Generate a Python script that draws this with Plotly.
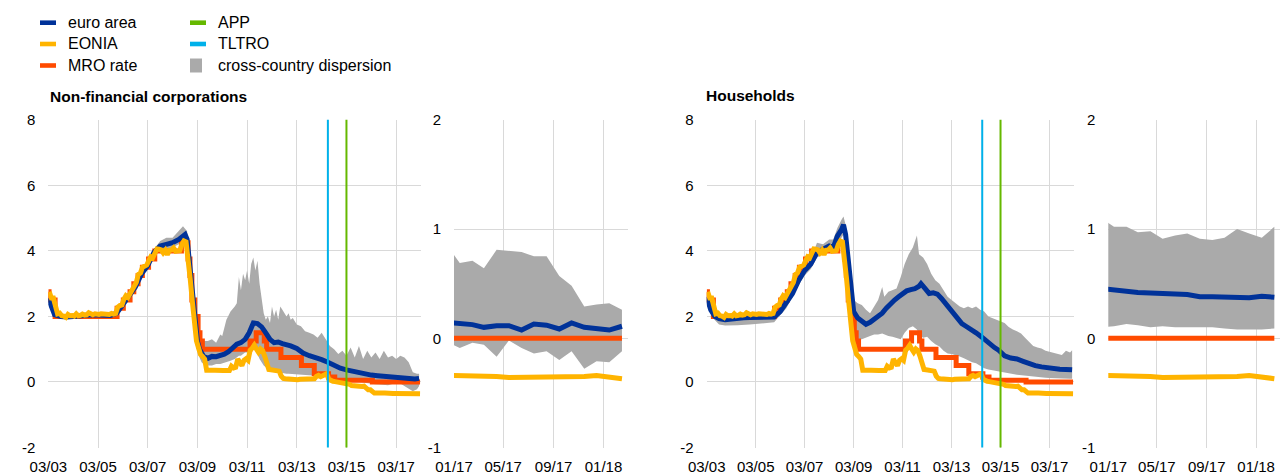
import plotly.graph_objects as go
import pandas as pd

W, H = 1282, 474

# ---------------- colours ----------------
C_EA = "#003299"
C_EONIA = "#FFB400"
C_MRO = "#FF4B00"
C_APP = "#65B800"
C_TLTRO = "#00B1EA"
C_DISP = "#AAAAAA"

# ---------------- data ----------------
# EONIA, monthly averages, 2003-03 .. 2018-02
eonia_long = [
    2.75, 2.56, 2.56, 2.21, 2.08, 2.10, 2.02, 2.01, 1.97, 2.06,
    2.02, 2.03, 2.01, 2.08, 2.02, 2.03, 2.07, 2.04, 2.05, 2.11, 2.09, 2.05,
    2.08, 2.06, 2.06, 2.08, 2.07, 2.06, 2.07, 2.06, 2.09, 2.07, 2.09, 2.28,
    2.33, 2.35, 2.52, 2.63, 2.58, 2.70, 2.81, 2.97, 3.04, 3.28, 3.33, 3.50,
    3.56, 3.57, 3.69, 3.82, 3.79, 3.96, 4.06, 4.05, 4.03, 3.94, 4.02, 3.88,
    4.02, 4.03, 4.09, 3.99, 4.01, 4.01, 4.19, 4.30, 4.27, 3.82, 3.15, 2.49,
    1.81, 1.26, 1.06, 0.84, 0.78, 0.70, 0.36, 0.35, 0.36, 0.36, 0.36, 0.35,
    0.34, 0.34, 0.35, 0.35, 0.34, 0.35, 0.48, 0.43, 0.45, 0.70, 0.59, 0.50,
    0.66, 0.71, 0.66, 0.97, 1.03, 1.12, 1.01, 0.91, 1.01, 0.96, 0.79, 0.63,
    0.38, 0.37, 0.36, 0.35, 0.34, 0.33, 0.18, 0.11, 0.10, 0.09, 0.08, 0.07,
    0.07, 0.07, 0.07, 0.08, 0.08, 0.09, 0.09, 0.08, 0.08, 0.09, 0.10, 0.17,
    0.20, 0.16, 0.19, 0.25, 0.25, 0.08, 0.04, 0.02, 0.01, 0.00, -0.01, -0.03,
    -0.05, -0.04, -0.05, -0.07, -0.11, -0.12, -0.12, -0.12, -0.14, -0.14, -0.13, -0.20,
    -0.24, -0.24, -0.29, -0.34, -0.34, -0.33, -0.33, -0.34, -0.34, -0.35, -0.35, -0.35,
    -0.35, -0.35, -0.35, -0.36, -0.36, -0.36, -0.36, -0.36, -0.36, -0.36, -0.35, -0.34,
    -0.36, -0.36,
]
eonia_long_dates = pd.date_range("2003-03-01", periods=len(eonia_long), freq="MS") + pd.Timedelta(days=14)

# MRO rate: change dates and new level
mro_dates = ["2003-03-01", "2003-03-12", "2003-06-09", "2005-12-06", "2006-03-08", "2006-06-15",
             "2006-08-09", "2006-10-11", "2006-12-13", "2007-03-14", "2007-06-13", "2008-07-09",
             "2008-10-15", "2008-11-12", "2008-12-10", "2009-01-21", "2009-03-11", "2009-04-08",
             "2009-05-13", "2011-04-13", "2011-07-13", "2011-11-09", "2011-12-14", "2012-07-11",
             "2013-05-08", "2013-11-13", "2014-06-11", "2014-09-10", "2016-03-16", "2018-02-15"]
mro_levels = [2.75, 2.50, 2.00, 2.25, 2.50, 2.75, 3.00, 3.25, 3.50, 3.75, 4.00, 4.25,
              3.75, 3.25, 2.50, 2.00, 1.50, 1.25, 1.00, 1.25, 1.50, 1.25, 1.00, 0.75,
              0.50, 0.25, 0.15, 0.05, 0.00, 0.00]

# Non-financial corporations, euro area
nfc_dates = ["2003-03", "2003-04", "2003-05", "2003-06", "2003-09", "2003-12", "2004-03", "2004-06",
             "2004-09", "2004-12", "2005-03", "2005-06", "2005-09", "2005-12", "2006-03", "2006-06",
             "2006-09", "2006-12", "2007-03", "2007-06", "2007-09", "2007-12", "2008-03", "2008-06",
             "2008-09", "2008-10", "2008-11", "2008-12", "2009-01", "2009-02", "2009-03", "2009-04",
             "2009-05", "2009-06", "2009-08", "2009-10", "2009-12", "2010-02", "2010-04", "2010-06",
             "2010-08", "2010-10", "2010-12", "2011-02", "2011-04", "2011-06", "2011-08", "2011-10",
             "2011-12", "2012-02", "2012-04", "2012-06", "2012-08", "2012-10", "2012-12", "2013-03",
             "2013-06", "2013-09", "2013-12", "2014-03", "2014-06", "2014-09", "2014-12", "2015-03",
             "2015-06", "2015-09", "2015-12", "2016-03", "2016-06", "2016-09", "2016-12", "2017-03",
             "2017-06", "2017-09", "2017-12", "2018-02"]
nfc_ea = [2.55, 2.4, 2.2, 2.05, 2.0, 1.98, 2.0, 2.02,
          2.03, 2.05, 2.04, 2.03, 2.03, 2.1, 2.35, 2.6,
          2.9, 3.3, 3.55, 3.95, 4.15, 4.2, 4.25, 4.35,
          4.5, 4.35, 3.7, 3.0, 2.3, 1.7, 1.25, 1.0,
          0.85, 0.78, 0.72, 0.78, 0.77, 0.8, 0.85, 0.92,
          1.02, 1.15, 1.2, 1.3, 1.5, 1.8, 1.78, 1.68,
          1.5, 1.3, 1.2, 1.22, 1.17, 1.15, 1.1, 1.02,
          0.88, 0.8, 0.75, 0.68, 0.6, 0.5, 0.42, 0.37,
          0.32, 0.28, 0.25, 0.21, 0.19, 0.17, 0.15, 0.13,
          0.12, 0.11, 0.09, 0.11]

nfc_band_dates = ["2003-03", "2003-06", "2003-09", "2003-12", "2004-06", "2004-12", "2005-06", "2005-12",
                  "2006-06", "2006-12", "2007-03", "2007-06", "2007-09", "2007-12", "2008-03", "2008-06",
                  "2008-08", "2008-10", "2008-11", "2008-12", "2009-01", "2009-02", "2009-03", "2009-04",
                  "2009-05", "2009-06", "2009-08", "2009-10", "2009-12", "2010-02", "2010-03", "2010-05",
                  "2010-07", "2010-09", "2010-10", "2010-11", "2010-12", "2011-01", "2011-02", "2011-03",
                  "2011-04", "2011-05", "2011-06", "2011-07", "2011-08", "2011-09", "2011-10", "2011-11",
                  "2011-12", "2012-01", "2012-02", "2012-03", "2012-04", "2012-05", "2012-06", "2012-07",
                  "2012-08", "2012-09", "2012-10", "2012-11", "2012-12", "2013-01", "2013-03", "2013-05",
                  "2013-07", "2013-09", "2013-11", "2014-01", "2014-03", "2014-05", "2014-07", "2014-09",
                  "2014-11", "2015-01", "2015-03", "2015-05", "2015-07", "2015-09", "2015-11", "2016-01",
                  "2016-03", "2016-05", "2016-07", "2016-09", "2016-11", "2017-01", "2017-03", "2017-05",
                  "2017-07", "2017-09", "2017-11", "2018-01", "2018-02"]
nfc_upper = [2.65, 2.1, 2.08, 2.06, 2.1, 2.12, 2.1, 2.15,
             2.68, 3.4, 3.65, 4.05, 4.3, 4.4, 4.4, 4.6,
             4.75, 4.6, 3.9, 3.2, 2.6, 2.0, 1.6, 1.35,
             1.25, 1.25, 1.25, 1.3, 1.2, 1.45, 1.4, 1.9,
             2.15, 2.3, 2.4, 3.2, 2.8, 3.3, 3.1, 3.4,
             3.0, 3.6, 3.8, 3.4, 3.7, 3.0, 2.6, 2.1,
             1.9, 2.0, 1.8, 2.3, 2.0, 2.2, 1.9, 2.3,
             2.2, 2.1, 2.0, 2.1, 1.9, 1.95, 1.75, 1.7,
             1.55, 1.5, 1.45, 1.35, 1.5, 1.3, 1.1, 1.0,
             0.85, 0.95, 0.8, 1.05, 0.75, 1.1, 0.7, 0.95,
             0.75, 0.9, 0.7, 0.95, 0.75, 0.8, 0.7, 0.8,
             0.75, 0.6, 0.3, 0.25, 0.25]
nfc_lower = [2.45, 1.98, 1.95, 1.94, 1.97, 1.98, 1.98, 2.02,
             2.55, 3.25, 3.5, 3.9, 4.05, 4.05, 4.1, 4.2,
             4.3, 4.2, 3.5, 2.8, 2.0, 1.4, 1.0, 0.75,
             0.6, 0.55, 0.5, 0.5, 0.55, 0.55, 0.55, 0.6,
             0.65, 0.7, 0.75, 0.8, 0.8, 0.85, 0.9, 0.9,
             1.0, 1.05, 1.1, 1.0, 0.85, 0.7, 0.6, 0.5,
             0.45, 0.42, 0.4, 0.4, 0.38, 0.36, 0.35, 0.3,
             0.27, 0.25, 0.25, 0.25, 0.25, 0.25, 0.25, 0.22,
             0.22, 0.2, 0.2, 0.2, 0.18, 0.17, 0.14, 0.1,
             0.08, 0.06, 0.05, 0.04, 0.02, 0.0, -0.02, -0.03,
             -0.05, -0.07, -0.08, -0.1, -0.1, -0.06, -0.06, -0.05,
             -0.14, -0.2, -0.28, -0.22, -0.12]

# Households, euro area
hh_dates = ["2003-03", "2003-04", "2003-05", "2003-07", "2003-09", "2003-12", "2004-03", "2004-06",
            "2004-09", "2004-12", "2005-03", "2005-06", "2005-09", "2005-12", "2006-03", "2006-06",
            "2006-09", "2006-12", "2007-03", "2007-06", "2007-09", "2007-12", "2008-03", "2008-05",
            "2008-07", "2008-09", "2008-10", "2008-11", "2008-12", "2009-01", "2009-02", "2009-03",
            "2009-05", "2009-07", "2009-09", "2009-11", "2010-01", "2010-03", "2010-05", "2010-07",
            "2010-09", "2010-11", "2011-01", "2011-03", "2011-05", "2011-07", "2011-09", "2011-11",
            "2011-12", "2012-02", "2012-04", "2012-06", "2012-08", "2012-10", "2012-12", "2013-02",
            "2013-04", "2013-06", "2013-08", "2013-10", "2013-12", "2014-03", "2014-06", "2014-09",
            "2014-12", "2015-02", "2015-05", "2015-08", "2015-11", "2016-02", "2016-05", "2016-08",
            "2016-11", "2017-02", "2017-05", "2017-08", "2017-11", "2018-02"]
hh_ea = [2.6, 2.4, 2.2, 2.0, 1.93, 1.9, 1.93, 1.95,
         1.96, 1.97, 1.97, 1.97, 1.97, 1.98, 2.15, 2.4,
         2.7, 3.1, 3.4, 3.6, 3.95, 4.05, 4.15, 4.1,
         4.45, 4.65, 4.8, 4.5, 3.9, 3.2, 2.4, 2.15,
         1.95, 1.85, 1.76, 1.82, 1.9, 2.0, 2.1, 2.25,
         2.4, 2.5, 2.6, 2.7, 2.78, 2.82, 2.85, 2.92,
         3.0, 2.85, 2.7, 2.72, 2.68, 2.55, 2.4, 2.25,
         2.05, 1.9, 1.78, 1.7, 1.63, 1.5, 1.36, 1.18,
         1.05, 0.97, 0.8, 0.73, 0.7, 0.63, 0.56, 0.5,
         0.46, 0.43, 0.41, 0.39, 0.38, 0.37]

hh_band_dates = ["2003-03", "2003-06", "2003-09", "2003-12", "2004-06", "2004-12", "2005-06", "2005-12",
                 "2006-06", "2006-12", "2007-03", "2007-06", "2007-09", "2007-12", "2008-03", "2008-05",
                 "2008-07", "2008-09", "2008-10", "2008-11", "2008-12", "2009-01", "2009-02", "2009-03",
                 "2009-05", "2009-07", "2009-09", "2009-11", "2010-01", "2010-03", "2010-05", "2010-06",
                 "2010-08", "2010-10", "2010-12", "2011-02", "2011-04", "2011-06", "2011-08", "2011-10",
                 "2011-11", "2012-01", "2012-03", "2012-05", "2012-07", "2012-09", "2012-11", "2013-01",
                 "2013-03", "2013-05", "2013-07", "2013-09", "2013-11", "2014-01", "2014-03", "2014-05",
                 "2014-07", "2014-09", "2014-11", "2015-01", "2015-03", "2015-05", "2015-07", "2015-09",
                 "2015-11", "2016-01", "2016-03", "2016-05", "2016-07", "2016-09", "2016-11", "2017-01",
                 "2017-03", "2017-05", "2017-07", "2017-09", "2017-11", "2018-01", "2018-02"]
hh_upper = [2.65, 2.15, 1.98, 1.95, 1.98, 2.0, 2.0, 2.02,
            2.5, 3.2, 3.5, 3.75, 4.25, 4.2, 4.35, 4.35,
            4.7, 4.95, 5.05, 4.8, 4.2, 3.6, 2.8, 2.5,
            2.4, 2.35, 2.2, 2.1, 2.3, 2.5, 2.9, 2.6,
            2.75, 2.8, 2.85, 3.2, 3.6, 3.9, 4.1, 4.47,
            3.9, 3.8, 3.6, 3.3, 3.1, 3.0, 2.8, 2.6,
            2.5, 2.4, 2.3, 2.25, 2.3, 2.25, 2.3, 2.2,
            2.15, 2.0, 1.95, 1.9, 1.85, 1.8, 1.68, 1.6,
            1.55, 1.48, 1.35, 1.22, 1.1, 1.05, 1.02, 0.95,
            0.92, 0.87, 0.85, 0.82, 0.95, 0.9, 0.97]
hh_lower = [2.45, 1.95, 1.75, 1.72, 1.73, 1.75, 1.78, 1.82,
            2.25, 2.95, 3.25, 3.45, 3.8, 3.9, 3.95, 3.95,
            4.2, 4.4, 4.5, 4.1, 3.4, 2.6, 1.8, 1.5,
            1.3, 1.3, 1.35, 1.4, 1.45, 1.45, 1.48, 1.45,
            1.4, 1.38, 1.35, 1.3, 1.5, 1.65, 1.7, 1.6,
            1.45, 1.35, 1.38, 1.25, 1.15, 1.08, 0.95, 0.87,
            0.85, 0.82, 0.78, 0.72, 0.67, 0.6, 0.57, 0.5,
            0.42, 0.38, 0.35, 0.32, 0.3, 0.28, 0.26, 0.24,
            0.22, 0.21, 0.19, 0.17, 0.16, 0.15, 0.14, 0.13,
            0.12, 0.11, 0.11, 0.1, 0.1, 0.1, 0.1]

# Recent period (monthly, mid-month observations)
short_dates = ["2016-12-15", "2017-01-15", "2017-02-15", "2017-03-15", "2017-04-15", "2017-05-15",
               "2017-06-15", "2017-07-15", "2017-08-15", "2017-09-15", "2017-10-15", "2017-11-15",
               "2017-12-15", "2018-01-15", "2018-02-15"]
nfc_ea_short = [0.145, 0.14, 0.125, 0.10, 0.115, 0.115, 0.075, 0.13, 0.12, 0.085, 0.14, 0.10, 0.085, 0.075, 0.11]
nfc_upper_short = [0.85, 0.69, 0.71, 0.64, 0.81, 0.80, 0.79, 0.75, 0.75, 0.57, 0.48, 0.29, 0.31, 0.32, 0.26]
nfc_lower_short = [-0.03, -0.09, -0.04, -0.06, -0.17, -0.02, -0.09, -0.14, -0.12, -0.20, -0.12, -0.28, -0.21, -0.22, -0.12]
hh_ea_short = [0.455, 0.44, 0.43, 0.42, 0.415, 0.415, 0.405, 0.40, 0.38, 0.38, 0.38, 0.375, 0.37, 0.385, 0.375]
hh_upper_short = [1.10, 1.02, 1.02, 0.97, 0.98, 0.91, 0.94, 0.96, 0.91, 0.90, 0.92, 1.00, 0.96, 0.92, 1.02]
hh_lower_short = [0.10, 0.11, 0.13, 0.12, 0.10, 0.11, 0.10, 0.10, 0.10, 0.10, 0.09, 0.08, 0.08, 0.08, 0.09]
eonia_short = [-0.34, -0.34, -0.35, -0.35, -0.35, -0.36, -0.36, -0.36, -0.36, -0.36, -0.36, -0.35, -0.34, -0.36, -0.37]
mro_short = [0.0] * len(short_dates)

# Policy measures
TLTRO_DATE = ["2014-06-01"]
APP_DATE = ["2015-03-01"]

# Axis labels
long_tickvals = ["2003-03-01", "2005-03-01", "2007-03-01", "2009-03-01", "2011-03-01",
                 "2013-03-01", "2015-03-01", "2017-03-01"]
long_ticktext = ["03/03", "03/05", "03/07", "03/09", "03/11", "03/13", "03/15", "03/17"]
short_tickvals = ["2017-01-01", "2017-05-01", "2017-09-01", "2018-01-01"]
short_ticktext = ["01/17", "05/17", "09/17", "01/18"]
long_yvals = [-2, 0, 2, 4, 6, 8]
long_ytext = ["-2", "0", "2", "4", "6", "8"]
short_yvals = [-1, 0, 1, 2]
short_ytext = ["-1", "0", "1", "2"]
LONG_RANGE = ["2003-03-01", "2018-03-01"]
SHORT_RANGE = ["2017-01-01", "2018-03-01"]

legend_items = [("euro area", C_EA, "line"), ("EONIA", C_EONIA, "line"), ("MRO rate", C_MRO, "line"),
                ("APP", C_APP, "line"), ("TLTRO", C_TLTRO, "line"),
                ("cross-country dispersion", C_DISP, "box")]

# ---------------- figure ----------------
FONT = "Liberation Sans, Arial, sans-serif"
fig = go.Figure()

def px_x(p):
    return p / W

def px_y(p):
    return 1 - p / H

# panel pixel boxes (left, right)
panels = {
    "x": (48.3, 421.0),
    "x2": (454.0, 627.7),
    "x3": (706.7, 1074.0),
    "x4": (1108.3, 1280.0),
}
Y_TOP, Y_BOT = 119.8, 447.5
LW = 5


def band(xa, lo, hi, xref, yref):
    xs = list(pd.to_datetime(xa)) + list(pd.to_datetime(xa))[::-1]
    ys = list(hi) + list(lo)[::-1]
    fig.add_trace(go.Scatter(x=xs, y=ys, fill="toself", fillcolor=C_DISP, mode="lines",
                             line=dict(width=0, color=C_DISP), hoverinfo="skip",
                             xaxis=xref, yaxis=yref, showlegend=False))


def line(xa, ya, color, xref, yref, shape="linear"):
    fig.add_trace(go.Scatter(x=xa, y=ya, mode="lines", line=dict(color=color, width=LW, shape=shape),
                             xaxis=xref, yaxis=yref, showlegend=False))


# NFC long
band(nfc_band_dates, nfc_lower, nfc_upper, "x", "y")
line(mro_dates, mro_levels, C_MRO, "x", "y", "hv")
line(nfc_dates, nfc_ea, C_EA, "x", "y")
line(eonia_long_dates, eonia_long, C_EONIA, "x", "y")
# NFC short
band(short_dates, nfc_lower_short, nfc_upper_short, "x2", "y2")
line(short_dates, mro_short, C_MRO, "x2", "y2")
line(short_dates, nfc_ea_short, C_EA, "x2", "y2")
line(short_dates, eonia_short, C_EONIA, "x2", "y2")
# HH long
band(hh_band_dates, hh_lower, hh_upper, "x3", "y3")
line(mro_dates, mro_levels, C_MRO, "x3", "y3", "hv")
line(hh_dates, hh_ea, C_EA, "x3", "y3")
line(eonia_long_dates, eonia_long, C_EONIA, "x3", "y3")
# HH short
band(short_dates, hh_lower_short, hh_upper_short, "x4", "y4")
line(short_dates, mro_short, C_MRO, "x4", "y4")
line(short_dates, hh_ea_short, C_EA, "x4", "y4")
line(short_dates, eonia_short, C_EONIA, "x4", "y4")

# policy lines
shapes = []
for xr, yr in (("x", "y"), ("x3", "y3")):
    for d, c in ((TLTRO_DATE[0], C_TLTRO), (APP_DATE[0], C_APP)):
        shapes.append(dict(type="line", xref=xr, yref=f"{yr} domain", x0=d, x1=d, y0=0, y1=1,
                           line=dict(color=c, width=2), layer="above"))

# legend (custom)
annotations = []
col_x = [40.0, 190.0]
row_y = [22.7, 44.0, 65.5]
for i, (name, color, kind) in enumerate(legend_items):
    cx = col_x[i // 3]
    cy = row_y[i % 3]
    if kind == "line":
        shapes.append(dict(type="rect", xref="paper", yref="paper",
                           x0=px_x(cx), x1=px_x(cx + 16), y0=px_y(cy + 2.3), y1=px_y(cy - 2.3),
                           fillcolor=color, line=dict(width=0)))
    else:
        shapes.append(dict(type="rect", xref="paper", yref="paper",
                           x0=px_x(cx), x1=px_x(cx + 12), y0=px_y(cy + 7), y1=px_y(cy - 7),
                           fillcolor=color, line=dict(width=0)))
    annotations.append(dict(text=name, x=px_x(cx + 26), y=px_y(cy), xref="paper", yref="paper",
                            xanchor="left", yanchor="middle", showarrow=False,
                            font=dict(family=FONT, size=16, color="#000000")))

annotations.append(dict(text="<b>Non-financial corporations</b>", x=px_x(47.5), y=px_y(96.7),
                        xref="paper", yref="paper", xanchor="left", yanchor="middle", showarrow=False,
                        font=dict(family=FONT, size=15.5, color="#000000")))
annotations.append(dict(text="<b>Households</b>", x=px_x(703.5), y=px_y(95.0),
                        xref="paper", yref="paper", xanchor="left", yanchor="middle", showarrow=False,
                        font=dict(family=FONT, size=15.5, color="#000000")))

tickfont = dict(family=FONT, size=15, color="#000000")
GRID = "#D9D9D9"

layout_axes = {}
for i, (key, (l, r)) in enumerate(panels.items(), start=1):
    is_long = key in ("x", "x3")
    xname = "xaxis" if i == 1 else f"xaxis{i}"
    yname = "yaxis" if i == 1 else f"yaxis{i}"
    ya = "y" if i == 1 else f"y{i}"
    layout_axes[xname] = dict(
        domain=[px_x(l), px_x(r)], anchor=ya, type="date", automargin=False,
        range=LONG_RANGE if is_long else SHORT_RANGE,
        tickmode="array", tickvals=long_tickvals if is_long else short_tickvals,
        ticktext=long_ticktext if is_long else short_ticktext,
        showgrid=True, gridcolor=GRID, gridwidth=1, zeroline=False, showline=False,
        ticks="outside", ticklen=5, tickcolor="rgba(0,0,0,0)", tickfont=tickfont,
    )
    layout_axes[yname] = dict(
        domain=[px_y(Y_BOT), px_y(Y_TOP)], anchor="x" if i == 1 else f"x{i}", automargin=False,
        range=[-2, 8] if is_long else [-1, 2],
        tickmode="array", tickvals=long_yvals if is_long else short_yvals,
        ticktext=long_ytext if is_long else short_ytext,
        showgrid=True, gridcolor=GRID, gridwidth=1, zeroline=False, showline=False,
        ticks="outside", ticklen=9, tickcolor="rgba(0,0,0,0)", tickfont=tickfont,
    )

fig.update_layout(
    width=W, height=H, margin=dict(l=0, r=0, t=0, b=0, autoexpand=False),
    paper_bgcolor="white", plot_bgcolor="white", showlegend=False,
    shapes=shapes, annotations=annotations, **layout_axes,
)

fig.write_html("out.html", config={"displayModeBar": False},
               post_script="document.body.style.margin='0';document.body.style.overflow='hidden';")
